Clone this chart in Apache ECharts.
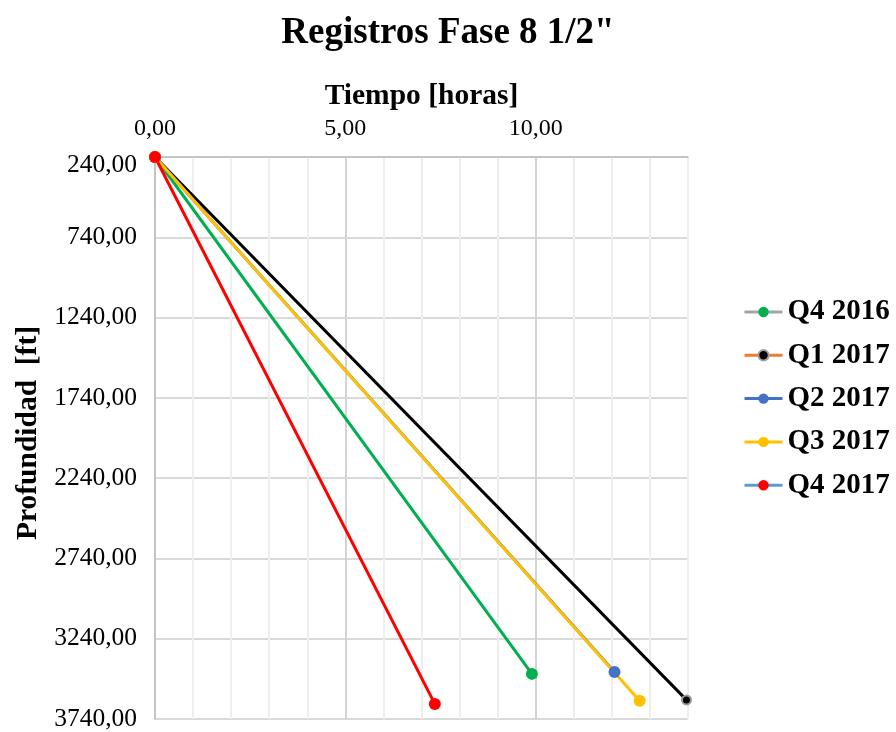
<!DOCTYPE html>
<html>
<head>
<meta charset="utf-8">
<script src="https://cdn.jsdelivr.net/npm/echarts@6/dist/echarts.min.js"></script>
<style>
html,body{margin:0;padding:0;background:#fff;}
#chart{width:896px;height:732px;}
</style>
</head>
<body>
<div id="chart"></div>
<script>
// Series data: [tiempo (horas), profundidad (ft)]
const seriesNames = ['Q4 2016', 'Q1 2017', 'Q2 2017', 'Q3 2017', 'Q4 2017'];
const q4_2016 = [[0, 240], [9.90, 3459]];
const q1_2017 = [[0, 240], [13.96, 3621]];
const q2_2017 = [[0, 240], [12.07, 3447]];
const q3_2017 = [[0, 240], [12.73, 3627]];
const q4_2017 = [[0, 240], [7.35, 3646]];

const FONT = '"Liberation Serif", "Times New Roman", serif';
const fmt = v => v.toFixed(2).replace('.', ',');

const chart = echarts.init(document.getElementById('chart'), null, {renderer: 'canvas'});

function lineSeries(name, data, color, symbolSize, border) {
  return {
    name: name,
    type: 'line',
    data: data,
    symbol: 'circle',
    symbolSize: symbolSize,
    showSymbol: true,
    lineStyle: {color: color, width: 3},
    itemStyle: border ? {color: color, borderColor: border, borderWidth: 2} : {color: color},
    emphasis: {disabled: true},
    animation: false,
    z: 3
  };
}

const option = {
  backgroundColor: '#ffffff',
  animation: false,
  title: {
    text: 'Registros Fase 8 1/2"',
    left: 'center',
    top: 10,
    textStyle: {fontFamily: FONT, fontWeight: 'bold', fontSize: 37, color: '#000'}
  },
  legend: {
    orient: 'vertical',
    left: 738,
    top: 292,
    itemWidth: 38,
    itemHeight: 13,
    itemGap: 13.3,
    textStyle: {fontFamily: FONT, fontWeight: 'bold', fontSize: 29, color: '#000', lineHeight: 30},
    data: [
      {name: seriesNames[0], lineStyle: {color: '#a5a5a5', width: 3}, itemStyle: {color: '#00b050'}},
      {name: seriesNames[1], lineStyle: {color: '#ed7d31', width: 3}, itemStyle: {color: '#000000', borderColor: '#a0a0a0', borderWidth: 2}},
      {name: seriesNames[2], lineStyle: {color: '#4472c4', width: 3}, itemStyle: {color: '#4472c4'}},
      {name: seriesNames[3], lineStyle: {color: '#ffc000', width: 3}, itemStyle: {color: '#ffc000'}},
      {name: seriesNames[4], lineStyle: {color: '#5b9bd5', width: 3}, itemStyle: {color: '#ff0000'}}
    ]
  },
  grid: {left: 155, top: 157, right: 208, bottom: 13, containLabel: false},
  xAxis: {
    type: 'value',
    position: 'top',
    min: 0,
    max: 14,
    interval: 1,
    name: 'Tiempo [horas]',
    nameLocation: 'middle',
    nameGap: 46,
    nameTextStyle: {fontFamily: FONT, fontWeight: 'bold', fontSize: 29.5, color: '#000'},
    axisLine: {show: true, lineStyle: {color: '#bfbfbf', width: 1.5}},
    axisTick: {show: false},
    axisLabel: {
      margin: 16,
      fontFamily: FONT, fontSize: 24, color: '#000',
      formatter: v => (Math.abs(v % 5) < 1e-9 ? fmt(v) : '')
    },
    splitLine: {show: true, lineStyle: {color: ['#d4d4d4', '#eeeeee', '#eeeeee', '#eeeeee', '#eeeeee'], width: 2}}
  },
  yAxis: {
    type: 'value',
    inverse: true,
    min: 240,
    max: 3740,
    interval: 500,
    name: 'Profundidad  [ft]',
    nameLocation: 'middle',
    nameGap: 104,
    nameRotate: 90,
    nameTextStyle: {fontFamily: FONT, fontWeight: 'bold', fontSize: 29.5, color: '#000', padding: [0, 0, 0, 10]},
    axisLine: {show: true, lineStyle: {color: '#bfbfbf', width: 1.5}},
    axisTick: {show: false},
    axisLabel: {
      margin: 18, fontFamily: FONT, fontSize: 25.5, color: '#000',
      formatter: v => (v === 240 ? '{first|' + fmt(v) + '}' : fmt(v)),
      rich: {first: {fontFamily: FONT, fontSize: 25.5, color: '#000', padding: [16, 0, 0, 0]}}
    },
    splitLine: {show: true, lineStyle: {color: '#d9d9d9', width: 2}}
  },
  series: [
    lineSeries(seriesNames[0], q4_2016, '#00b050', 12),
    lineSeries(seriesNames[1], q1_2017, '#000000', 9, '#9a9a9a'),
    lineSeries(seriesNames[2], q2_2017, '#4472c4', 12),
    lineSeries(seriesNames[3], q3_2017, '#ffc000', 12),
    lineSeries(seriesNames[4], q4_2017, '#ff0000', 12)
  ]
};
chart.setOption(option);
</script>
</body>
</html>
